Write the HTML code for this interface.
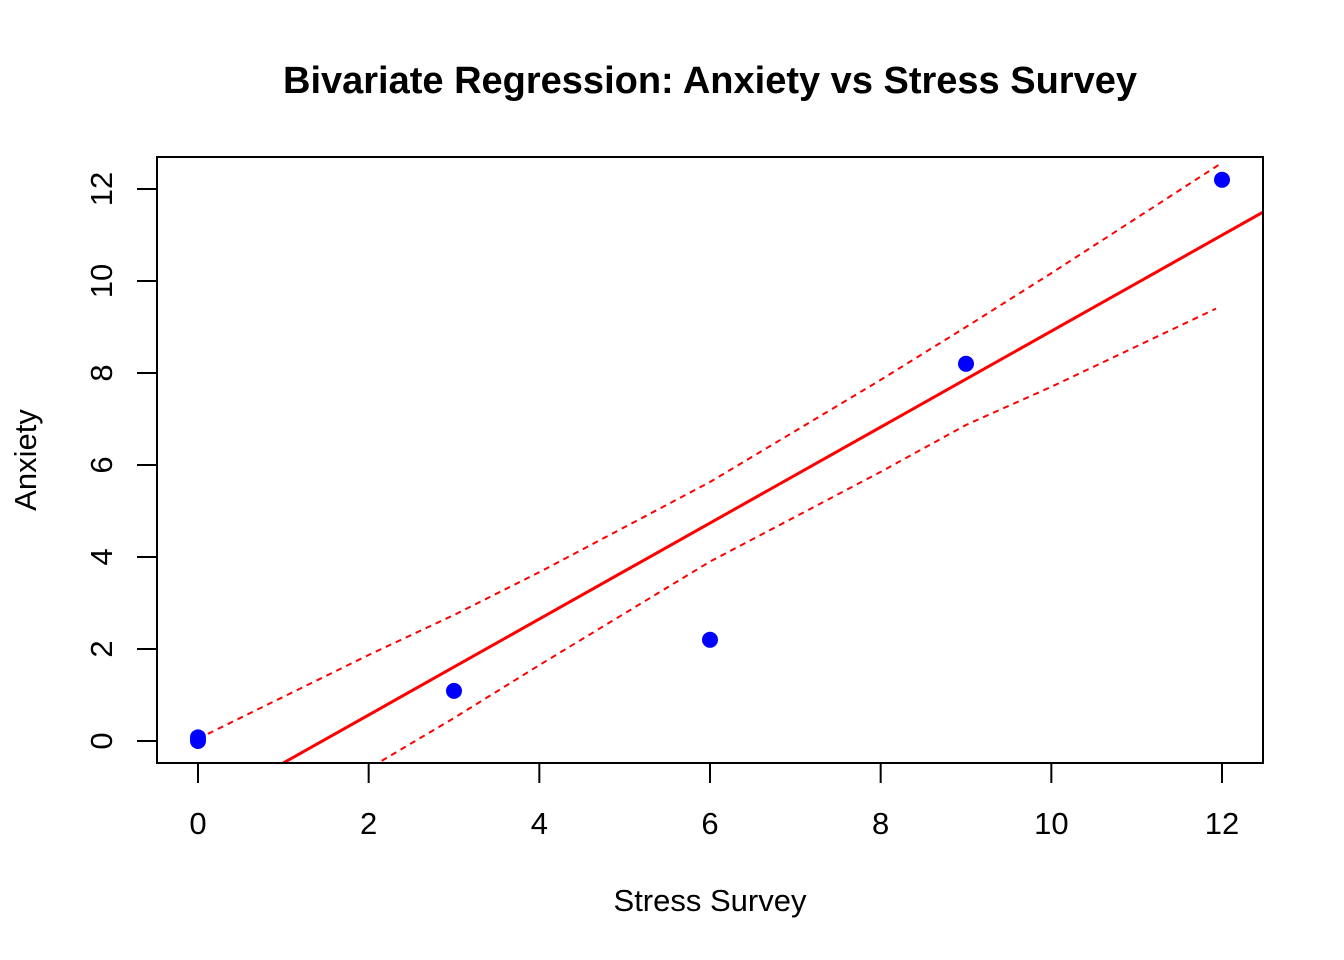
<!DOCTYPE html>
<html><head><meta charset="utf-8"><style>
html,body{margin:0;padding:0;background:#fff;}
svg{display:block;font-family:"Liberation Sans",Arial,sans-serif;}
</style></head><body>
<svg id="chart" width="1344" height="960">
<text x="710" y="93" text-anchor="middle" font-size="38" font-weight="bold">Bivariate Regression: Anxiety vs Stress Survey</text>
<text x="710" y="911" text-anchor="middle" font-size="31">Stress Survey</text>
<text transform="translate(36,460) rotate(-90)" text-anchor="middle" font-size="31">Anxiety</text>
<defs><clipPath id="clip"><rect x="157" y="157" width="1106" height="606"/></clipPath></defs>
<g id="xaxis"></g>
<g id="yaxis"></g>
<g id="marks" clip-path="url(#clip)"></g>
<rect x="157" y="157" width="1106" height="606" fill="none" stroke="#000" stroke-width="2"/>
</svg>
<script>
const xTicks=[0,2,4,6,8,10,12];
const yTicks=[0,2,4,6,8,10,12];
const pointX=[0,0,3,6,9,12];
const pointY=[0.08,0,1.09,2.2,8.2,12.2];
const fitIntercept=-1.52;
const fitSlope=1.043;
const upperX=[0,2,3,4,6,8,9,10,12];
const upperY=[0.05,1.87,2.74,3.67,5.63,7.85,9.0,10.17,12.57];
const lowerX=[0,2,3,4,6,8,9,10,11.93];
const lowerY=[-2.6,-0.6,0.5,1.65,3.9,5.85,6.87,7.7,9.4];

const NS="http://www.w3.org/2000/svg";
const sx=v=>198+v*(1222-198)/12;
const sy=v=>741-v*(741-189)/12;
const svg=document.getElementById('chart');
function mk(tag,attrs,parent){const e=document.createElementNS(NS,tag);for(const k in attrs)e.setAttribute(k,attrs[k]);parent.appendChild(e);return e;}
const xa=document.getElementById('xaxis'),ya=document.getElementById('yaxis'),m=document.getElementById('marks');
xTicks.forEach(t=>{
 const l=mk('line',{x1:sx(t),x2:sx(t),y1:763,y2:783,stroke:'#000','stroke-width':2},xa);
 
 
 const tx=mk('text',{x:sx(t),y:834,'text-anchor':'middle','font-size':31},xa);tx.textContent=t;
 
 
});
yTicks.forEach(t=>{
 const l=mk('line',{x1:137,x2:157,y1:sy(t),y2:sy(t),stroke:'#000','stroke-width':2},ya);
 
 
 const tx=mk('text',{transform:`translate(112,${sy(t)}) rotate(-90)`,'text-anchor':'middle','font-size':31},ya);tx.textContent=t;
 
 
});
const fl=mk('line',{x1:sx(-1),y1:sy(fitIntercept-fitSlope),x2:sx(13),y2:sy(fitIntercept+13*fitSlope),stroke:'#f00','stroke-width':3},m);


const up=mk('polyline',{points:upperX.map((x,i)=>sx(x)+','+sy(upperY[i])).join(' '),fill:'none',stroke:'#f00','stroke-width':2,'stroke-dasharray':'6,5'},m);


const lo=mk('polyline',{points:lowerX.map((x,i)=>sx(x)+','+sy(lowerY[i])).join(' '),fill:'none',stroke:'#f00','stroke-width':2,'stroke-dasharray':'6,5'},m);


pointX.forEach((x,i)=>{
 const c=mk('circle',{cx:sx(x),cy:sy(pointY[i]),r:8,fill:'#00f'},svg);
 
 
});
</script>
</body></html>
